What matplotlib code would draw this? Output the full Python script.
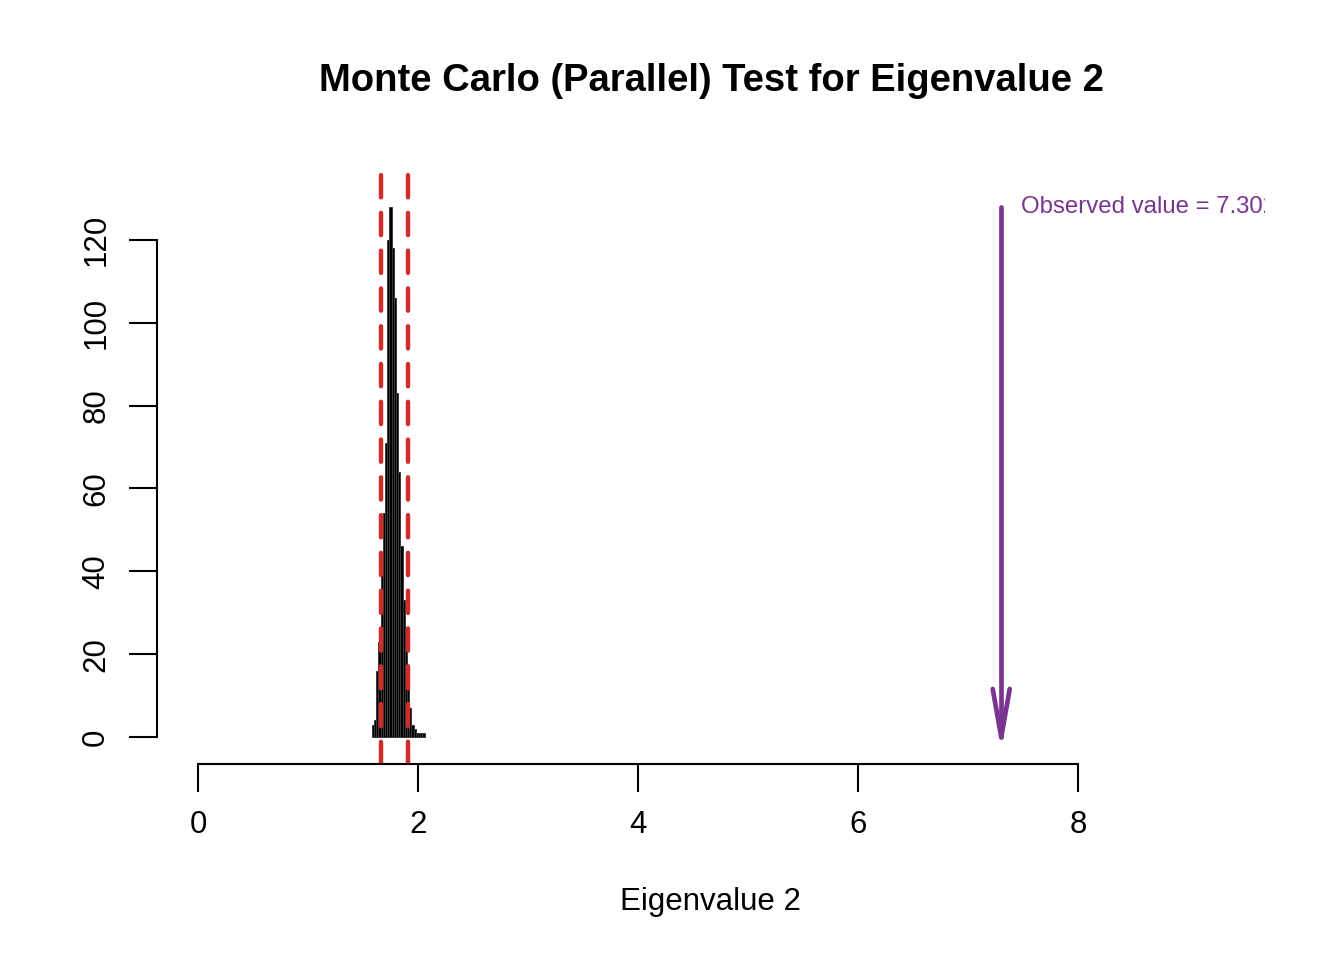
import matplotlib
matplotlib.use("Agg")
import matplotlib.pyplot as plt
import numpy as np

plt.rcParams['font.family'] = ['Liberation Sans', 'DejaVu Sans']

# simulated eigenvalue 2 histogram (bin left edges, width 0.02)
bin_edges = np.round(np.arange(1.58, 2.0601, 0.02), 2)
counts = [3, 4, 16, 23, 41, 54, 71, 120, 128, 118, 106, 83,
          64, 46, 33, 23, 14, 7, 3, 2, 1, 1, 1, 1]
ci_lower = 1.664
ci_upper = 1.909
observed = 7.302
x_ticks = [0, 2, 4, 6, 8]
y_ticks = [0, 20, 40, 60, 80, 100, 120]

W, H = 1344, 960
fig = plt.figure(figsize=(W / 100, H / 100), dpi=100)
ax = fig.add_axes([157 / W, 1 - 764 / H, (1265 - 157) / W, (764 - 170) / H])

ax.bar(bin_edges[:-1], counts, width=0.02, align='edge',
       color='black', edgecolor='#3a3a3a', linewidth=0.7)

for v in (ci_lower, ci_upper):
    ax.axvline(v, color='#D22B2B', linewidth=3.2, linestyle=(0, (5, 3.5)),
               dash_capstyle='round')

ax.set_xlim(-0.373, 9.70)
ax.set_ylim(-6.52, 136.9)

# arrow from max count down to 0 with an open V head (head size in pixels)
purple = '#7A3590'
top = max(counts)
ax.plot([observed, observed], [top, 0], color=purple, lw=3.4,
        solid_capstyle='round')
tip_px = ax.transData.transform((observed, 0))
inv = ax.transData.inverted()
for side in (-1, 1):
    back = inv.transform(tip_px + np.array([side * 8.5, 48]))
    ax.plot([back[0], observed], [back[1], 0], color=purple, lw=3.4,
            solid_capstyle='round')
ax.text(observed + 0.18, top, 'Observed value = %.3f' % observed,
        color=purple, fontsize=17.3, va='center', ha='left', clip_on=True)

for s in ('top', 'right'):
    ax.spines[s].set_visible(False)
ax.spines['left'].set_bounds(0, 120)
ax.spines['bottom'].set_bounds(0, 8)
ax.spines['left'].set_linewidth(1.5)
ax.spines['bottom'].set_linewidth(1.5)

ax.set_xticks(x_ticks)
ax.set_yticks(y_ticks)
ax.set_yticklabels([str(t) for t in y_ticks], rotation=90, va='center')
ax.tick_params(axis='both', length=20, width=1.5, labelsize=22.5)
ax.tick_params(axis='x', pad=13)
ax.tick_params(axis='y', pad=13)

fig.text(711 / W, 1 - 81 / H, 'Monte Carlo (Parallel) Test for Eigenvalue 2',
         ha='center', va='center', fontsize=27.5, fontweight='bold')
fig.text(711 / W, 1 - 902 / H, 'Eigenvalue 2', ha='center', va='center',
         fontsize=22.5)

fig.savefig('out.png', dpi=100)
